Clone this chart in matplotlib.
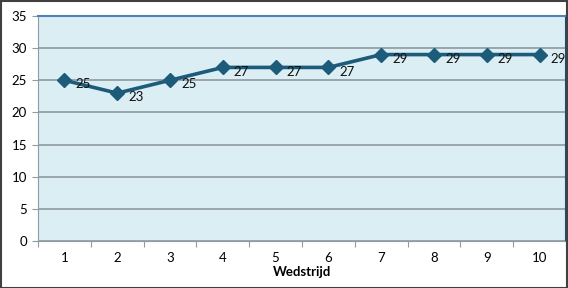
import numpy as np
import matplotlib
matplotlib.use('Agg')
from matplotlib import pyplot as plt
from matplotlib.patches import Rectangle

# data
matches = [1, 2, 3, 4, 5, 6, 7, 8, 9, 10]
scores = [25, 23, 25, 27, 27, 27, 29, 29, 29, 29]
y_ticks = [0, 5, 10, 15, 20, 25, 30, 35]

line_color = '#1d5b7a'
bg_color = '#dbeef4'
grid_color = '#8e9ba1'

plt.rcParams['font.family'] = ['Lato', 'DejaVu Sans']
plt.rcParams['font.size'] = 9.5

W, H = 568, 288
fig = plt.figure(figsize=(W / 100, H / 100), dpi=100)
ax = fig.add_axes([38 / W, (H - 241) / H, (566 - 38) / W, (241 - 16) / H])
ax.set_facecolor(bg_color)

x = np.arange(len(matches))
ax.plot(x, scores, color=line_color, linewidth=2.6, marker='D', markersize=7,
        markeredgecolor=line_color, zorder=3)
for xi, val in zip(x, scores):
    ax.annotate(str(val), (xi, val), xytext=(8, -3), textcoords='offset points',
                ha='left', va='center', fontsize=9.5, color='#111111', zorder=4)

ax.set_xlim(-0.5, len(matches) - 0.5)
ax.set_ylim(0, 35)
ax.set_yticks(y_ticks)
ax.yaxis.grid(True, color=grid_color, linewidth=1.2)
ax.set_axisbelow(True)

# category ticks sit between categories, labels at centres
ax.set_xticks(np.arange(-0.5, len(matches), 1.0))
ax.set_xticklabels([])
ax.set_xticks(x, minor=True)
ax.set_xticklabels([str(m) for m in matches], minor=True)
ax.tick_params(axis='x', which='minor', length=0, pad=8)
ax.tick_params(axis='x', which='major', length=4, color=grid_color, direction='out')
ax.tick_params(axis='y', length=4, color=grid_color, pad=4)
ax.set_xlabel('Wedstrijd', fontweight='bold', fontsize=9.5, labelpad=1)

ax.spines['left'].set_color(grid_color)
ax.spines['bottom'].set_color(grid_color)
ax.spines['top'].set_color('#4f81bd')
ax.spines['top'].set_linewidth(1.5)
ax.spines['right'].set_color('#1f497d')
ax.spines['right'].set_linewidth(1.5)

# outer chart border
fig.patches.append(Rectangle((0.5 / W, 0.5 / H), 1 - 1.5 / W, 1 - 1.5 / H,
                             transform=fig.transFigure, fill=False,
                             edgecolor='#404040', linewidth=1.5))

fig.savefig('out.png', dpi=100)
